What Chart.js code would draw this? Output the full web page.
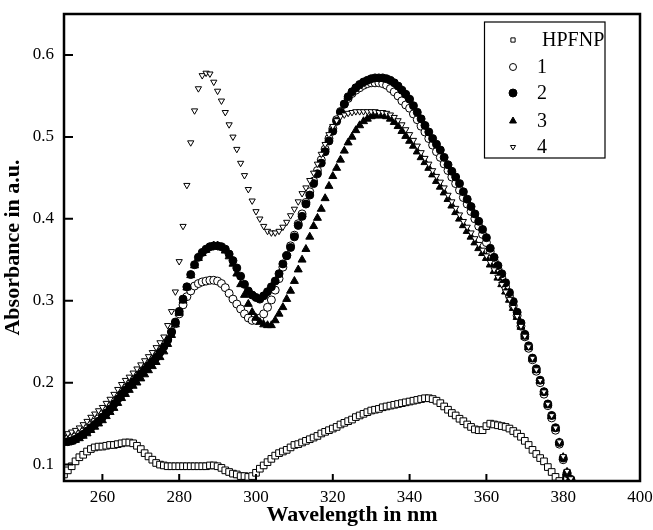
<!DOCTYPE html>
<html>
<head>
<meta charset="utf-8">
<script src="https://cdn.jsdelivr.net/npm/chart.js@4/dist/chart.umd.min.js"></script>
<style>
html,body{margin:0;padding:0;background:#fff;}
#wrap{width:653px;height:530px;position:relative;}
</style>
</head>
<body>
<div id="wrap"><canvas id="c" width="653" height="530"></canvas></div>
<script>
const wavelengths = [250,251,252,253,254,255,256,257,258,259,260,261,262,263,264,265,266,267,268,269,270,271,272,273,274,275,276,277,278,279,280,281,282,283,284,285,286,287,288,289,290,291,292,293,294,295,296,297,298,299,300,301,302,303,304,305,306,307,308,309,310,311,312,313,314,315,316,317,318,319,320,321,322,323,324,325,326,327,328,329,330,331,332,333,334,335,336,337,338,339,340,341,342,343,344,345,346,347,348,349,350,351,352,353,354,355,356,357,358,359,360,361,362,363,364,365,366,367,368,369,370,371,372,373,374,375,376,377,378,379,380,381,382];

const seriesNames = ["HPFNP","1","2","3","4"];

const hpfnp = [0.088,0.093,0.098,0.104,0.109,0.112,0.116,0.119,0.121,0.122,
0.122,0.123,0.124,0.124,0.125,0.126,0.127,0.127,0.126,0.123,
0.119,0.114,0.110,0.106,0.102,0.100,0.099,0.098,0.098,0.098,
0.098,0.098,0.098,0.098,0.098,0.098,0.098,0.098,0.099,0.099,
0.098,0.096,0.093,0.091,0.089,0.088,0.086,0.086,0.085,0.086,
0.090,0.095,0.099,0.103,0.107,0.111,0.114,0.116,0.118,0.121,
0.124,0.125,0.127,0.129,0.131,0.133,0.135,0.138,0.140,0.142,
0.144,0.146,0.149,0.151,0.153,0.155,0.158,0.160,0.162,0.164,
0.166,0.167,0.168,0.170,0.171,0.172,0.173,0.174,0.175,0.176,
0.177,0.178,0.179,0.180,0.181,0.181,0.180,0.178,0.175,0.171,
0.167,0.163,0.160,0.156,0.153,0.149,0.146,0.143,0.142,0.142,
0.147,0.150,0.149,0.148,0.147,0.146,0.144,0.141,0.138,0.134,
0.129,0.124,0.118,0.113,0.108,0.104,0.097,0.091,0.085,0.080];

const complex1 = [0.131,0.131,0.132,0.134,0.137,0.140,0.144,0.148,0.152,0.156,
0.161,0.166,0.171,0.177,0.183,0.188,0.193,0.198,0.203,0.208,
0.213,0.218,0.223,0.228,0.233,0.239,0.246,0.253,0.262,0.272,
0.284,0.295,0.305,0.312,0.318,0.321,0.323,0.324,0.325,0.325,
0.324,0.321,0.316,0.309,0.302,0.296,0.290,0.284,0.279,0.276,
0.276,0.279,0.284,0.292,0.301,0.313,0.327,0.341,0.355,0.367,
0.380,0.394,0.406,0.420,0.433,0.446,0.459,0.472,0.485,0.498,
0.510,0.521,0.531,0.540,0.547,0.553,0.557,0.560,0.563,0.565,
0.566,0.566,0.566,0.565,0.563,0.559,0.555,0.550,0.544,0.539,
0.535,0.528,0.521,0.513,0.506,0.498,0.490,0.482,0.475,0.467,
0.459,0.451,0.443,0.435,0.426,0.418,0.409,0.400,0.391,0.381,
0.371,0.360,0.349,0.339,0.328,0.317,0.306,0.294,0.282,0.269,
0.256,0.242,0.228,0.214,0.200,0.186,0.172,0.157,0.142,0.125,
0.106,0.089,0.081];

const complex2 = [0.128,0.128,0.129,0.131,0.134,0.137,0.141,0.145,0.149,0.153,
0.158,0.163,0.168,0.174,0.180,0.186,0.191,0.196,0.201,0.206,
0.211,0.216,0.221,0.226,0.231,0.237,0.244,0.252,0.262,0.274,
0.287,0.302,0.317,0.332,0.344,0.353,0.359,0.363,0.366,0.367,
0.367,0.366,0.363,0.357,0.349,0.340,0.330,0.320,0.312,0.307,
0.304,0.302,0.306,0.311,0.317,0.324,0.333,0.345,0.355,0.365,
0.378,0.392,0.403,0.418,0.429,0.443,0.455,0.468,0.482,0.495,
0.507,0.519,0.530,0.540,0.549,0.555,0.560,0.564,0.567,0.569,
0.571,0.572,0.572,0.572,0.571,0.569,0.566,0.562,0.557,0.552,
0.546,0.538,0.530,0.522,0.514,0.506,0.498,0.491,0.484,0.475,
0.466,0.458,0.451,0.443,0.433,0.424,0.415,0.406,0.397,0.387,
0.377,0.364,0.353,0.343,0.333,0.322,0.310,0.299,0.286,0.273,
0.259,0.245,0.230,0.217,0.203,0.189,0.174,0.160,0.145,0.127,
0.108,0.090,0.082];

const complex3 = [0.127,0.127,0.128,0.130,0.132,0.135,0.138,0.142,0.146,0.150,
0.154,0.159,0.164,0.169,0.175,0.181,0.186,0.191,0.196,0.200,
0.205,0.210,0.215,0.220,0.225,0.231,0.238,0.247,0.258,0.271,
0.285,0.300,0.316,0.331,0.343,0.352,0.358,0.362,0.365,0.367,
0.367,0.365,0.361,0.354,0.345,0.333,0.320,0.307,0.296,0.286,
0.279,0.274,0.271,0.270,0.270,0.276,0.284,0.292,0.302,0.312,
0.324,0.338,0.350,0.363,0.378,0.391,0.401,0.412,0.425,0.440,
0.452,0.462,0.472,0.483,0.493,0.500,0.508,0.514,0.519,0.522,
0.525,0.526,0.526,0.526,0.525,0.522,0.518,0.513,0.507,0.501,
0.495,0.489,0.482,0.475,0.469,0.462,0.454,0.446,0.439,0.432,
0.424,0.416,0.408,0.400,0.392,0.385,0.378,0.371,0.364,0.358,
0.352,0.344,0.336,0.328,0.320,0.311,0.301,0.291,0.280,0.268,
0.256,0.243,0.229,0.215,0.202,0.188,0.173,0.159,0.144,0.127,
0.109,0.091,0.082];

const complex4 = [0.137,0.138,0.140,0.142,0.145,0.149,0.153,0.158,0.162,0.166,
0.170,0.175,0.180,0.186,0.192,0.198,0.203,0.207,0.212,0.217,
0.222,0.227,0.232,0.237,0.243,0.249,0.256,0.270,0.287,0.311,
0.348,0.391,0.441,0.493,0.532,0.559,0.575,0.578,0.577,0.567,
0.556,0.544,0.530,0.515,0.500,0.485,0.468,0.453,0.436,0.422,
0.409,0.400,0.391,0.385,0.383,0.383,0.385,0.390,0.396,0.404,
0.412,0.421,0.431,0.438,0.447,0.456,0.467,0.479,0.491,0.503,
0.513,0.520,0.525,0.527,0.529,0.530,0.531,0.531,0.531,0.531,
0.531,0.531,0.530,0.530,0.529,0.527,0.524,0.520,0.515,0.509,
0.503,0.496,0.489,0.481,0.474,0.467,0.459,0.452,0.445,0.438,
0.429,0.421,0.413,0.405,0.397,0.390,0.383,0.376,0.369,0.362,
0.355,0.347,0.338,0.329,0.320,0.311,0.302,0.292,0.281,0.269,
0.257,0.244,0.230,0.216,0.203,0.189,0.174,0.160,0.145,0.128,
0.110,0.092,0.083];

const xTickValues = [260,280,300,320,340,360,380,400];
const xTickLabels = ["260","280","300","320","340","360","380","400"];
const yTickValues = [0.1,0.2,0.3,0.4,0.5,0.6];
const yTickLabels = ["0.1","0.2","0.3","0.4","0.5","0.6"];

const SERIF = "'Liberation Serif','Times New Roman',serif";

function pts(arr){ return arr.map((v,i)=>({x: wavelengths[i], y: v})); }

const styles = [
  {pointStyle:'rect', radius:4.7, fill:'#ffffff', rot:0, bw:1, order:5, lr:3},
  {pointStyle:'circle', radius:4, fill:'#ffffff', rot:0, bw:1, order:4, lr:3.5},
  {pointStyle:'circle', radius:4, fill:'#000000', rot:0, bw:1, order:3, lr:4},
  {pointStyle:'triangle', radius:4.6, fill:'#000000', rot:0, bw:1, order:2, lr:4},
  {pointStyle:'triangle', radius:3.6, fill:'#ffffff', rot:180, bw:1, order:1, lr:3}
];
const allData = [hpfnp, complex1, complex2, complex3, complex4];

const datasets = allData.map((arr,k)=>({
  label: seriesNames[k],
  data: pts(arr),
  showLine: false,
  pointStyle: styles[k].pointStyle,
  pointRadius: styles[k].radius,
  pointRotation: styles[k].rot,
  pointBackgroundColor: styles[k].fill,
  pointBorderColor: '#000000',
  pointBorderWidth: styles[k].bw,
  pointHoverRadius: styles[k].radius,
  order: styles[k].order,
  legendRadius: styles[k].lr
}));

const framePlugin = {
  id: 'frame',
  afterDatasetsDraw(chart){
    const {ctx, chartArea:a, scales} = chart;
    ctx.save();
    ctx.strokeStyle = '#000';
    ctx.lineWidth = 2.5;
    ctx.strokeRect(a.left, a.top, a.right - a.left, a.bottom - a.top);
    ctx.lineWidth = 2;
    ctx.beginPath();
    xTickValues.forEach(v=>{
      const px = scales.x.getPixelForValue(v);
      if (px < a.right - 1) { ctx.moveTo(px, a.bottom); ctx.lineTo(px, a.bottom - 7); }
    });
    yTickValues.forEach(v=>{
      const py = scales.y.getPixelForValue(v);
      ctx.moveTo(a.left, py); ctx.lineTo(a.left + 9, py);
    });
    ctx.stroke();

    // legend box
    const bx = 484.5, by = 22, bw = 120.5, bh = 136;
    ctx.fillStyle = '#fff';
    ctx.fillRect(bx, by, bw, bh);
    ctx.lineWidth = 1.2;
    ctx.strokeRect(bx, by, bw, bh);
    const rows = [40, 67, 93, 121, 147];
    ctx.font = "20px " + SERIF;
    ctx.textBaseline = 'middle';
    ctx.textAlign = 'left';
    chart.data.datasets.forEach((ds,i)=>{
      const y = rows[i];
      ctx.save();
      ctx.fillStyle = ds.pointBackgroundColor;
      ctx.strokeStyle = '#000';
      ctx.lineWidth = 1;
      Chart.helpers.drawPoint(ctx, {pointStyle: ds.pointStyle, rotation: ds.pointRotation, radius: ds.legendRadius, borderWidth: 1}, 513, y);
      ctx.restore();
      ctx.fillStyle = '#000';
      const tx = i === 0 ? 542 : 537;
      ctx.fillText(ds.label, tx, y + 1);
    });
    ctx.restore();
  }
};

new Chart(document.getElementById('c'), {
  type: 'scatter',
  data: { datasets },
  options: {
    responsive: false,
    animation: false,
    devicePixelRatio: 1,
    layout: { padding: { top: 14, right: 13, left: 0, bottom: 0 } },
    plugins: { legend: { display: false }, tooltip: { enabled: false } },
    scales: {
      x: {
        type: 'linear', min: 250, max: 400,
        grid: { display: false, drawTicks: false },
        border: { display: false },
        afterBuildTicks(s){ s.ticks = xTickValues.map(v=>({value:v})); },
        afterFit(s){ s.height = 49; s.paddingRight = 0; s.paddingLeft = 0; },
        ticks: {
          padding: 6, color: '#000', maxRotation: 0, autoSkip: false,
          font: { family: SERIF, size: 17 },
          callback(v){ const i = xTickValues.indexOf(v); return i >= 0 ? xTickLabels[i] : ''; }
        },
        title: { display: true, text: 'Wavelength in nm', color: '#000', padding: { top: 0, bottom: 1 },
          font: { family: SERIF, size: 22, weight: 'bold' } }
      },
      y: {
        type: 'linear', min: 0.08, max: 0.65,
        grid: { display: false, drawTicks: false },
        border: { display: false },
        afterBuildTicks(s){ s.ticks = yTickValues.map(v=>({value:v})); },
        afterFit(s){ s.width = 64; s.paddingTop = 0; s.paddingBottom = 0; },
        ticks: {
          padding: 10, color: '#000',
          font: { family: SERIF, size: 17 },
          callback(v){ const i = yTickValues.findIndex(t=>Math.abs(t-v)<1e-9); return i >= 0 ? yTickLabels[i] : ''; }
        },
        title: { display: true, text: 'Absorbance in a.u.', color: '#000', padding: { top: 0, bottom: 0 },
          font: { family: SERIF, size: 22, weight: 'bold' } }
      }
    }
  },
  plugins: [framePlugin]
});
</script>
</body>
</html>
